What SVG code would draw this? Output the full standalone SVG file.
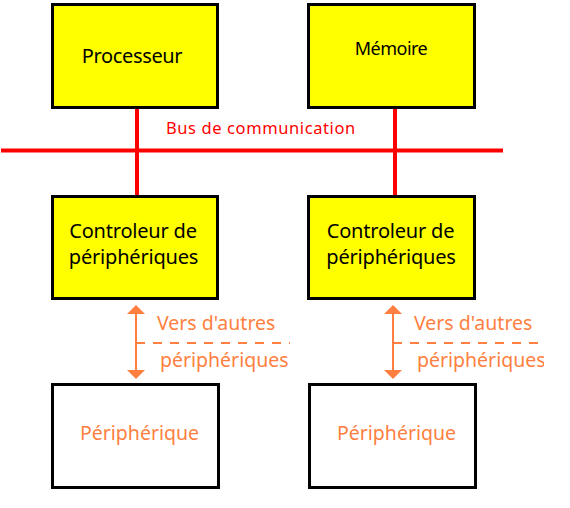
<svg xmlns="http://www.w3.org/2000/svg" width="570" height="508" viewBox="0 0 570 508">
  <style>
    .box { fill: #FFFF00; stroke: #000; stroke-width: 3; }
    .pbox { fill: #FFFFFF; stroke: #000; stroke-width: 3; }
    .t { font-family: "Noto Sans", "Open Sans", sans-serif; font-size: 20px; letter-spacing: -0.2px; fill: #000; }
    .o { font-family: "Noto Sans", "Open Sans", sans-serif; font-size: 19.5px; fill: #FF7F40; }
    .bus { stroke: #FF0000; stroke-width: 4; fill: none; }
    .arr { stroke: #FF7F40; stroke-width: 2; fill: none; }
    .dash { stroke: #FF7F40; stroke-width: 2; stroke-dasharray: 9 8; fill: none; }
    .head { fill: #FF7F40; }
  </style>
  <defs>
    <clipPath id="clipR"><rect x="0" y="0" width="544" height="508"/></clipPath>
  </defs>

  <g id="connectors">
    <line class="bus" x1="1" y1="150.5" x2="503" y2="150.5"/>
    <line class="bus" x1="137" y1="107" x2="137" y2="196"/>
    <line class="bus" x1="395" y1="107" x2="395" y2="196"/>
    <g id="arrow-left">
      <line class="arr" x1="136" y1="312" x2="136" y2="372"/>
      <polygon class="head" points="136,305 127,314 145,314"/>
      <polygon class="head" points="136,379 127,370 145,370"/>
      <line class="dash" x1="136" y1="343" x2="290" y2="343"/>
    </g>
    <g id="arrow-right">
      <line class="arr" x1="393" y1="312" x2="393" y2="372"/>
      <polygon class="head" points="393,305 384,314 402,314"/>
      <polygon class="head" points="393,379 384,370 402,370"/>
      <line class="dash" x1="393" y1="343" x2="544" y2="343"/>
    </g>
    <text x="166" y="133.5" style="font-family:'Noto Sans','Open Sans',sans-serif;fill:#FF0000;font-size:16.5px;letter-spacing:0.6px">Bus de communication</text>
  </g>

  <g id="processeur">
    <rect class="box" x="52.5" y="4.5" width="165" height="103"/>
    <text class="t" x="132" y="63" text-anchor="middle" style="letter-spacing:-0.35px">Processeur</text>
  </g>
  <g id="memoire">
    <rect class="box" x="308.5" y="4.5" width="166" height="103"/>
    <text class="t" x="391" y="55" text-anchor="middle" style="font-size:18px;letter-spacing:-0.5px">Mémoire</text>
  </g>
  <g id="controleur-1">
    <rect class="box" x="52.5" y="196.5" width="165" height="102"/>
    <text class="t" x="133" y="238" text-anchor="middle">Controleur de</text>
    <text class="t" x="133.5" y="264" text-anchor="middle">périphériques</text>
  </g>
  <g id="controleur-2">
    <rect class="box" x="308.5" y="196.5" width="166" height="102"/>
    <text class="t" x="390.5" y="238" text-anchor="middle">Controleur de</text>
    <text class="t" x="391" y="264" text-anchor="middle">périphériques</text>
  </g>
  <g id="label-left">
    <text class="o" x="157" y="330">Vers d'autres</text>
    <text class="o" x="160" y="367">périphériques</text>
  </g>
  <g id="label-right">
    <text class="o" x="414" y="330">Vers d'autres</text>
    <text class="o" x="417" y="367" clip-path="url(#clipR)">périphériques</text>
  </g>
  <g id="peripherique-1">
    <rect class="pbox" x="52.5" y="384.5" width="166" height="103"/>
    <text class="o" x="139.5" y="440" text-anchor="middle">Périphérique</text>
  </g>
  <g id="peripherique-2">
    <rect class="pbox" x="309.5" y="384.5" width="166" height="103"/>
    <text class="o" x="396.5" y="440" text-anchor="middle">Périphérique</text>
  </g>
</svg>
